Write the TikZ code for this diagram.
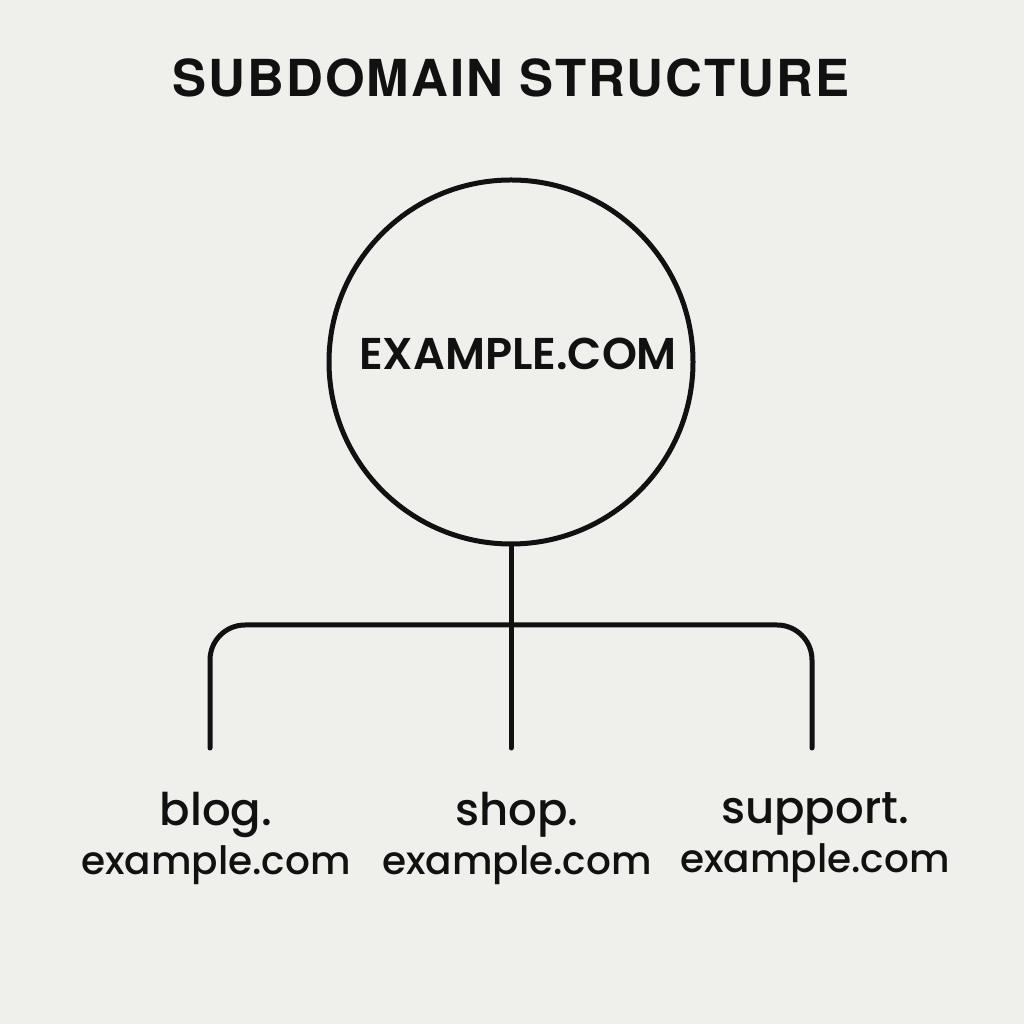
\documentclass[tikz,border=0pt]{standalone}
\usepackage{fontspec}
\setmainfont{Poppins}
\newfontfamily\leaffont{Poppins Medium}
\newfontfamily\rootfont{Poppins SemiBold}
\newfontfamily\titlefont[LetterSpace=4]{TeX Gyre Heros}
\usepackage{tikz}
\usetikzlibrary{positioning}
\definecolor{paper}{HTML}{EFEFEC}
\definecolor{ink}{HTML}{111111}

\begin{document}
\begin{tikzpicture}[line cap=round,line join=round,x=1pt,y=1pt]
\fill[paper] (0,0) rectangle (1024,1024);
\useasboundingbox (0,0) rectangle (1024,1024);
\tikzset{
  tree/.style={line width=5pt,draw=ink},
  leaf/.style={align=center,text=ink,font=\leaffont\fontsize{39}{49}\selectfont,anchor=north,inner sep=0pt}
}
\newcommand{\subname}[1]{{\fontsize{45}{49}\selectfont #1}}
\node[text=ink,font=\titlefont\bfseries\fontsize{51}{60}\selectfont] (title) at (511,946) {SUBDOMAIN STRUCTURE};
\node[tree,circle,minimum size=364pt,inner sep=0pt,text=ink,font=\rootfont\fontsize{44.5}{48}\selectfont,text depth=16pt] (root) at (511,662) {\hspace{14pt}EXAMPLE.COM};
\coordinate (hub) at (511,399);
\coordinate (blogend) at (210,276);
\coordinate (shopend) at (511,276);
\coordinate (supportend) at (812,276);
\draw[tree] (root) -- (shopend);
\draw[tree,rounded corners=35pt] (blogend) |- (hub) -| (supportend);
\node[leaf] (blog) at (216,232) {\subname{blog.}\\example.com};
\node[leaf] (shop) at (517,232) {\subname{shop.}\\example.com};
\node[leaf] (support) at (815,232) {\subname{support.}\\example.com};
\end{tikzpicture}
\end{document}
